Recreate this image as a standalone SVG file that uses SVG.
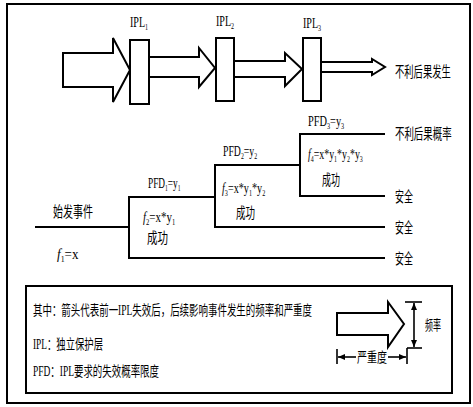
<svg xmlns="http://www.w3.org/2000/svg" width="473" height="407" viewBox="0 0 473 407">
<defs>
<marker id="ah" viewBox="0 0 10 10" refX="10" refY="5" markerWidth="7" markerHeight="6" markerUnits="userSpaceOnUse" orient="auto-start-reverse" preserveAspectRatio="none">
<path d="M0,0 L10,5 L0,10 z" fill="#000"/>
</marker>
</defs>
<style>
.ln{stroke:#000;stroke-width:2;fill:none}
.ar{stroke:#000;stroke-width:2;fill:#fff;stroke-linejoin:miter}
.bx{stroke:#000;stroke-width:2;fill:#fff}
.dm{stroke:#000;stroke-width:1.6;fill:none}
.t{font-family:"Liberation Serif","Noto Sans CJK SC",serif;font-size:15px;fill:#000}
.s{font-size:14px}
.sub{font-size:9px}
</style>
<rect x="0" y="0" width="473" height="407" fill="#fff"/>
<rect id="frame" x="7" y="4" width="463" height="399" class="ln"/>

<g id="connectors">
<polygon id="arrow1" class="ar" points="63,53 113,53 113,38 130,70 113,102 113,87 63,87"/>
<polygon id="arrow2" class="ar" points="149,57 199,57 199,48 215,68 199,87 199,77 149,77"/>
<polygon id="arrow3" class="ar" points="234,61 285,61 285,53 302,69 285,86 285,77 234,77"/>
<polygon id="arrow4" class="ar" points="321,62 372,62 372,59 385,67 372,75 372,72 321,72"/>
<polyline class="ln" points="35,227 129,227"/>
<polyline class="ln" points="215,197 129,197 129,258 385,258"/>
<polyline class="ln" points="300,165 215,165 215,227 385,227"/>
<polyline class="ln" points="385,134 300,134 300,196 385,196"/>
</g>

<g id="ipl1"><rect class="bx" x="130" y="40" width="19" height="64"/>
<text class="t" transform="translate(130,27) scale(0.67,1)">IPL<tspan class="sub" dy="3">1</tspan></text></g>
<g id="ipl2"><rect class="bx" x="216" y="38" width="18" height="63"/>
<text class="t" transform="translate(216,26) scale(0.67,1)">IPL<tspan class="sub" dy="3">2</tspan></text></g>
<g id="ipl3"><rect class="bx" x="303" y="38" width="18" height="63"/>
<text class="t" transform="translate(303,28) scale(0.67,1)">IPL<tspan class="sub" dy="3">3</tspan></text></g>
<g id="outcome-top"><text class="t" transform="translate(395,77) scale(0.62,1)">不利后果发生</text></g>

<g id="initiating">
<text class="t" x="53" y="217" textLength="40" lengthAdjust="spacingAndGlyphs">始发事件</text>
<text class="t" transform="translate(57,259) scale(0.87,1)"><tspan font-style="italic">f</tspan><tspan class="sub" dy="3">1</tspan><tspan dy="-3">=x</tspan></text>
</g>
<g id="layer1">
<text class="t" transform="translate(148,188) scale(0.62,1)">PFD<tspan class="sub" dy="3">1</tspan><tspan dy="-3">=y</tspan><tspan class="sub" dy="3">1</tspan></text>
<text class="t" transform="translate(143,222) scale(0.73,1)"><tspan font-style="italic">f</tspan><tspan class="sub" dy="3">2</tspan><tspan dy="-3">=x*y</tspan><tspan class="sub" dy="3">1</tspan></text>
<text class="t" x="147" y="243" textLength="21" lengthAdjust="spacingAndGlyphs">成功</text>
</g>
<g id="layer2">
<text class="t" transform="translate(223,156) scale(0.65,1)">PFD<tspan class="sub" dy="3">2</tspan><tspan dy="-3">=y</tspan><tspan class="sub" dy="3">2</tspan></text>
<text class="t" transform="translate(222,193) scale(0.68,1)"><tspan font-style="italic">f</tspan><tspan class="sub" dy="3">3</tspan><tspan dy="-3">=x*y</tspan><tspan class="sub" dy="3">1</tspan><tspan dy="-3">*y</tspan><tspan class="sub" dy="3">2</tspan></text>
<text class="t" x="236" y="218" textLength="19" lengthAdjust="spacingAndGlyphs">成功</text>
</g>
<g id="layer3">
<text class="t" transform="translate(308,126) scale(0.69,1)">PFD<tspan class="sub" dy="3">3</tspan><tspan dy="-3">=y</tspan><tspan class="sub" dy="3">3</tspan></text>
<text class="t" transform="translate(308,159) scale(0.66,1)"><tspan font-style="italic">f</tspan><tspan class="sub" dy="3">4</tspan><tspan dy="-3">=x*y</tspan><tspan class="sub" dy="3">1</tspan><tspan dy="-3">*y</tspan><tspan class="sub" dy="3">2</tspan><tspan dy="-3">*y</tspan><tspan class="sub" dy="3">3</tspan></text>
<text class="t" x="322" y="185" textLength="18" lengthAdjust="spacingAndGlyphs">成功</text>
</g>
<g id="outcomes">
<text class="t" transform="translate(395,139) scale(0.63,1)">不利后果概率</text>
<text class="t" x="395" y="202" textLength="18" lengthAdjust="spacingAndGlyphs">安全</text>
<text class="t" x="395" y="233" textLength="18" lengthAdjust="spacingAndGlyphs">安全</text>
<text class="t" x="395" y="264" textLength="18" lengthAdjust="spacingAndGlyphs">安全</text>
</g>

<g id="legend">
<rect class="ln" x="26" y="286" width="426" height="107"/>
<text class="t s" x="33" y="315" textLength="279" lengthAdjust="spacingAndGlyphs">其中：箭头代表前一IPL失效后，后续影响事件发生的频率和严重度</text>
<text class="t s" x="33" y="349" textLength="70" lengthAdjust="spacingAndGlyphs">IPL：独立保护层</text>
<text class="t s" x="33" y="376" textLength="126" lengthAdjust="spacingAndGlyphs">PFD：IPL要求的失效概率限度</text>
<polygon class="ar" points="337,313 388,313 388,302 404,324 388,347 388,335 337,335"/>
<line class="dm" x1="405" y1="302" x2="422" y2="302"/>
<line class="dm" x1="407" y1="348" x2="422" y2="348"/>
<line class="dm" x1="407" y1="348" x2="407" y2="364"/>
<line class="dm" x1="337" y1="349" x2="337" y2="364"/>
<line class="dm" x1="414" y1="303" x2="414" y2="347" marker-start="url(#ah)" marker-end="url(#ah)"/>
<line class="dm" x1="356" y1="357" x2="338" y2="357" marker-end="url(#ah)"/>
<line class="dm" x1="388" y1="357" x2="406" y2="357" marker-end="url(#ah)"/>
<text class="t s" x="357" y="362" textLength="30" lengthAdjust="spacingAndGlyphs">严重度</text>
<text class="t s" x="425" y="330" textLength="16" lengthAdjust="spacingAndGlyphs">频率</text>
</g>
</svg>
